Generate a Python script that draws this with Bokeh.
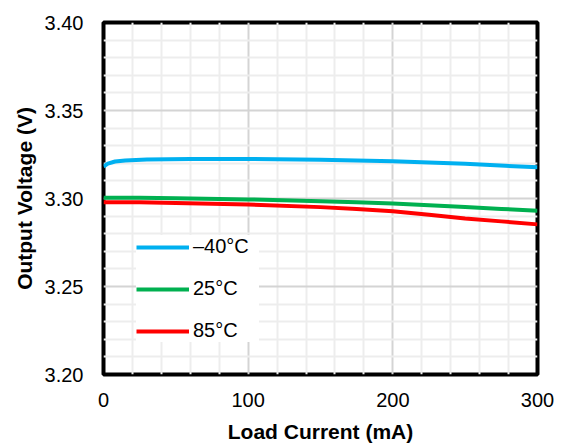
from bokeh.plotting import figure
from bokeh.models import (Range1d, FixedTicker, NumeralTickFormatter,
                          Legend, LegendItem)
from bokeh.embed import file_html
from bokeh.resources import INLINE

# Data
load_ma = [0, 3, 8, 15, 30, 60, 100, 150, 200, 250, 300]
v_m40 = [3.3182, 3.3198, 3.3210, 3.3216, 3.3221, 3.3224, 3.3225, 3.3220, 3.3212, 3.3197, 3.3177]

load_ma2 = [0, 25, 50, 100, 150, 175, 200, 225, 250, 275, 300]
v_25 = [3.3004, 3.3004, 3.3002, 3.2995, 3.2985, 3.2979, 3.2972, 3.2962, 3.2952, 3.2941, 3.2930]
v_85 = [3.2979, 3.2978, 3.2975, 3.2966, 3.2951, 3.2941, 3.2928, 3.2908, 3.2887, 3.2870, 3.2853]

series_labels = ["\u201340\u00b0C", "25\u00b0C", "85\u00b0C"]
series_colors = ["#00B0F0", "#00B050", "#FF0000"]

x_ticks = [0, 100, 200, 300]
x_minor = [20, 40, 60, 80, 120, 140, 160, 180, 220, 240, 260, 280]
y_ticks = [3.20, 3.25, 3.30, 3.35, 3.40]
y_minor = [3.21, 3.22, 3.23, 3.24, 3.26, 3.27, 3.28, 3.29,
           3.31, 3.32, 3.33, 3.34, 3.36, 3.37, 3.38, 3.39]

FONT = "Liberation Sans"

p = figure(width=563, height=445, output_backend="svg", toolbar_location=None,
           x_range=Range1d(0, 300), y_range=Range1d(3.20, 3.40),
           min_border_left=103, min_border_right=26, min_border_top=22,
           min_border_bottom=69)

p.outline_line_color = "black"
p.outline_line_width = 4
p.background_fill_color = "white"
p.border_fill_color = "white"

p.xaxis.ticker = FixedTicker(ticks=x_ticks, minor_ticks=x_minor)
p.yaxis.ticker = FixedTicker(ticks=y_ticks, minor_ticks=y_minor)
p.yaxis.formatter = NumeralTickFormatter(format="0.00")

for ax in (p.xaxis[0], p.yaxis[0]):
    ax.axis_line_color = None
    ax.major_tick_line_color = None
    ax.minor_tick_line_color = None
    ax.major_label_text_font = FONT
    ax.major_label_text_font_size = "20px"
    ax.major_label_text_color = "black"
    ax.axis_label_text_font = FONT
    ax.axis_label_text_font_size = "21px"
    ax.axis_label_text_font_style = "bold"
    ax.axis_label_text_color = "black"

p.xaxis.axis_label = "Load Current (mA)"
p.yaxis.axis_label = "Output Voltage (V)"
p.xaxis.major_label_standoff = 12
p.yaxis.major_label_standoff = 14
p.xaxis.axis_label_standoff = 10
p.yaxis.axis_label_standoff = 6

p.xgrid.grid_line_color = "#D4D4D4"
p.ygrid.grid_line_color = "#D4D4D4"
p.xgrid.grid_line_width = 2
p.ygrid.grid_line_width = 2
p.xgrid.minor_grid_line_color = "#EDEDED"
p.ygrid.minor_grid_line_color = "#EDEDED"
p.xgrid.minor_grid_line_width = 2
p.ygrid.minor_grid_line_width = 2

r1 = p.line(load_ma, v_m40, line_color=series_colors[0], line_width=4)
r2 = p.line(load_ma2, v_25, line_color=series_colors[1], line_width=4)
r3 = p.line(load_ma2, v_85, line_color=series_colors[2], line_width=4)

legend = Legend(items=[LegendItem(label=series_labels[0], renderers=[r1]),
                       LegendItem(label=series_labels[1], renderers=[r2]),
                       LegendItem(label=series_labels[2], renderers=[r3])],
                location=(33, 32), orientation="vertical")
legend.border_line_color = None
legend.background_fill_color = "white"
legend.background_fill_alpha = 1.0
legend.label_text_font = FONT
legend.label_text_font_size = "20px"
legend.label_text_color = "black"
legend.glyph_width = 53
legend.glyph_height = 22
legend.label_height = 22
legend.label_width = 66
legend.label_standoff = 4
legend.spacing = 19
legend.padding = 10
legend.margin = 0
p.add_layout(legend, "center")

open("out.html", "w").write(file_html(p, INLINE))
